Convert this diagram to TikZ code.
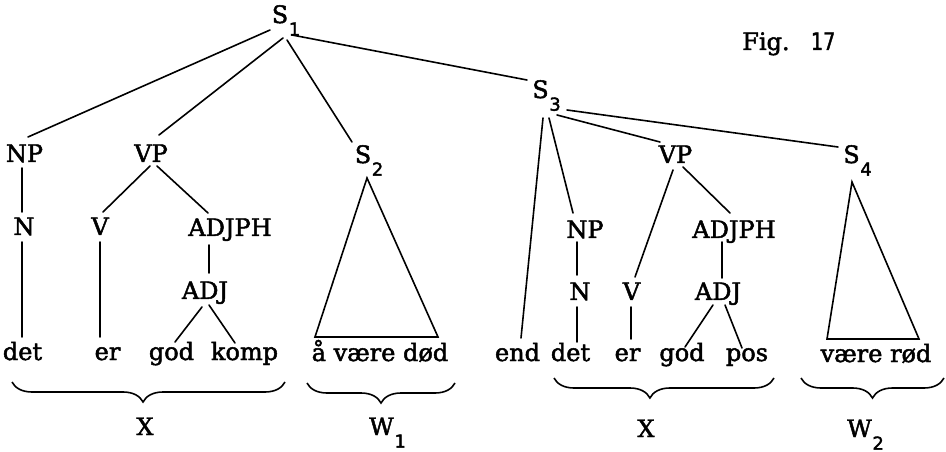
\documentclass[tikz,border=0pt]{standalone}
\usepackage{fontspec}
\usepackage{graphicx}
\setmainfont{DejaVu Serif}[FakeBold=2]
\setsansfont{DejaVu Sans}[FakeBold=2]
\usetikzlibrary{decorations.pathreplacing}
\newcommand\subs[1]{\kern0.5pt\raisebox{-9.5pt}{\sffamily\fontsize{13.4}{14}\selectfont #1}}
\begin{document}
\begin{tikzpicture}[x=0.75pt,y=-0.75pt,
  lbl/.style={anchor=base,inner sep=0pt,font=\fontsize{18}{20}\selectfont},
  edge/.style={line width=1.2pt,line cap=round},
  brc/.style={decorate,decoration={brace,mirror,amplitude=15pt,aspect=#1},line width=1.2pt}]
\useasboundingbox (0,0) rectangle (946,452);
% ---- labels ----
\node[lbl] (S1) at (286,23) {S\subs{1}};
\node[lbl] (S2) at (369,163) {S\subs{2}};
\node[lbl] (S3) at (546.5,98) {S\subs{3}};
\node[lbl] (S4) at (857.5,163) {S\subs{4}};
\node[lbl,anchor=base west] (fig) at (742,50) {Fig.\hspace{16pt}{\sffamily\scalebox{0.8}[1]{17}}};
% left tree
\node[lbl] (NPa) at (24.5,162) {NP};
\node[lbl] (VPa) at (151,162) {VP};
\node[lbl] (Na) at (24,235) {N};
\node[lbl] (Va) at (100,235) {V};
\node[lbl] (ADJPHa) at (230,236) {ADJPH};
\node[lbl] (ADJa) at (205,299) {ADJ};
\node[lbl] (deta) at (22.5,360) {det};
\node[lbl] (era) at (107.5,360) {er};
\node[lbl] (goda) at (171.5,360) {god};
\node[lbl] (komp) at (244.5,360) {komp};
\node[lbl] (w1) at (380,361) {å være død};
\node[lbl] (Xa) at (145,435) {X};
\node[lbl] (W1) at (387.5,435) {W\subs{1}};
% right tree
\node[lbl] (end) at (517.5,361) {end};
\node[lbl] (NPb) at (585,238) {NP};
\node[lbl] (VPb) at (675.5,163) {VP};
\node[lbl] (Nb) at (580,300) {N};
\node[lbl] (Vb) at (631.5,300) {V};
\node[lbl] (ADJPHb) at (734,238) {ADJPH};
\node[lbl] (ADJb) at (718,300) {ADJ};
\node[lbl] (detb) at (570.5,361) {det};
\node[lbl] (erb) at (627.5,361) {er};
\node[lbl] (godb) at (682,361) {god};
\node[lbl] (pos) at (747,361) {pos};
\node[lbl] (w2) at (876,362) {være rød};
\node[lbl] (Xb) at (646,437) {X};
\node[lbl] (W2) at (865.5,437) {W\subs{2}};
% ---- edges ----
\draw[edge] ([shift={(-16,7)}]S1.base) -- ([shift={(3.5,-25)}]NPa.base);
\draw[edge] ([shift={(-3,15)}]S1.base) -- ([shift={(8,-27)}]VPa.base);
\draw[edge] ([shift={(1,17)}]S1.base) -- ([shift={(-17,-21)}]S2.base);
\draw[edge] ([shift={(6,12)}]S1.base) -- ([shift={(-19.5,-18)}]S3.base);
\draw[edge] ([shift={(-2.5,6)}]NPa.base) -- ([shift={(-2,-23)}]Na.base);
\draw[edge] ([shift={(-2,7)}]Na.base) -- ([shift={(-0.5,-23)}]deta.base);
\draw[edge] ([shift={(-1,4)}]VPa.base) -- ([shift={(3,-23)}]Va.base);
\draw[edge] ([shift={(6,4)}]VPa.base) -- ([shift={(-22,-23)}]ADJPHa.base);
\draw[edge] ([shift={(0,7)}]Va.base) -- ([shift={(-7.5,-23)}]era.base);
\draw[edge] ([shift={(-21,9)}]ADJPHa.base) -- ([shift={(4,-26)}]ADJa.base);
\draw[edge] ([shift={(-3,8)}]ADJa.base) -- ([shift={(3.5,-18)}]goda.base);
\draw[edge] ([shift={(4,6)}]ADJa.base) -- ([shift={(-9.5,-17)}]komp.base);
\draw[edge] ([shift={(-2,15)}]S2.base) -- ([shift={(-65,-24)}]w1.base)
  -- ([shift={(58,-24)}]w1.base) -- cycle;
\draw[edge] ([shift={(-3.5,20)}]S3.base) -- ([shift={(3.5,-23)}]end.base);
\draw[edge] ([shift={(2.5,20)}]S3.base) -- ([shift={(-12,-25)}]NPb.base);
\draw[edge] ([shift={(10.5,17)}]S3.base) -- ([shift={(-15.5,-21)}]VPb.base);
\draw[edge] ([shift={(20.5,12)}]S3.base) -- ([shift={(-19.5,-16)}]S4.base);
\draw[edge] ([shift={(-2.5,7)}]VPb.base) -- ([shift={(3.5,-23)}]Vb.base);
\draw[edge] ([shift={(7.5,4)}]VPb.base) -- ([shift={(-4,-25)}]ADJPHb.base);
\draw[edge] ([shift={(-8,4)}]NPb.base) -- ([shift={(-3,-25)}]Nb.base);
\draw[edge] ([shift={(-3,7)}]Nb.base) -- ([shift={(6.5,-19)}]detb.base);
\draw[edge] ([shift={(-0.5,7)}]Vb.base) -- ([shift={(3.5,-22)}]erb.base);
\draw[edge] ([shift={(-12,4)}]ADJPHb.base) -- ([shift={(4,-22)}]ADJb.base);
\draw[edge] ([shift={(-5,5)}]ADJb.base) -- ([shift={(3,-14)}]godb.base);
\draw[edge] ([shift={(7,5)}]ADJb.base) -- ([shift={(-5,-13)}]pos.base);
\draw[edge] ([shift={(-5.5,19)}]S4.base) -- ([shift={(-49,-23)}]w2.base)
  -- ([shift={(43,-23)}]w2.base) -- cycle;
% ---- braces ----
\draw[brc=0.48] (12,382) -- (285,382);
\draw[brc=0.5] (307,383) -- (455,383);
\draw[brc=0.436] (554,378) -- (774,378);
\draw[brc=0.5] (801,378) -- (944,378);
\end{tikzpicture}
\end{document}
